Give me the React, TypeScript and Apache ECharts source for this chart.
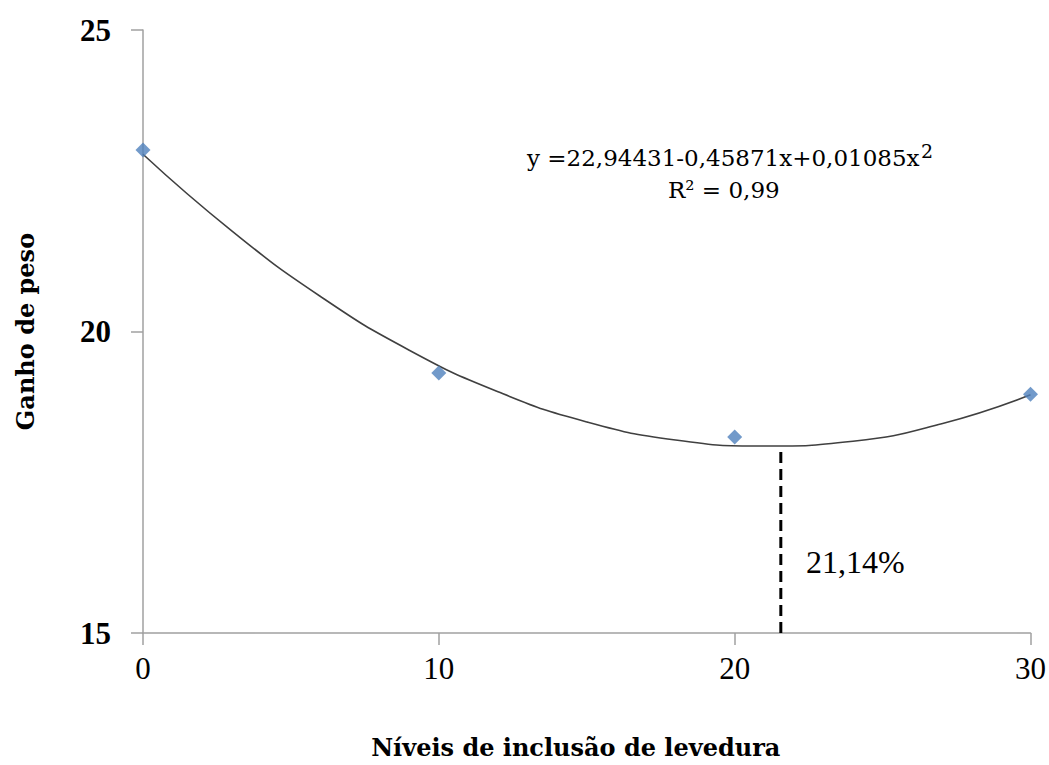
import React, { useEffect, useRef } from "react";
import * as echarts from "echarts";

const xLevels = [0, 10, 20, 30];
const observed = [23.01, 19.31, 18.25, 18.96];
const curveX = [0, 3, 6, 9, 12, 15, 18, 21, 24, 27, 30];
const curveY = [22.94, 21.67, 20.58, 19.69, 19.0, 18.5, 18.2, 18.1, 18.18, 18.47, 18.95];
const optimumX = 21.56;
const optimumY = 18.1;
const xTicks = [0, 10, 20, 30];
const yTicks = [15, 20, 25];
const equationText = "y =22,94431-0,45871x+0,01085x";
const equationSup = "2";
const r2Text = "R² = 0,99";
const optimumLabel = "21,14%";

export default function App() {
  const ref = useRef<HTMLDivElement>(null);
  useEffect(() => {
    if (!ref.current) return;
    const chart = echarts.init(ref.current, null, { renderer: "svg" });
    const serif = "Liberation Serif";
    const wide = "DejaVu Serif";
    chart.setOption({
      animation: false,
      backgroundColor: "#ffffff",
      grid: { left: 143, right: 17, top: 30, bottom: 132 },
      xAxis: {
        type: "value",
        min: xTicks[0],
        max: xTicks[xTicks.length - 1],
        interval: 10,
        name: "Níveis de inclusão de levedura",
        nameLocation: "middle",
        nameGap: 102,
        nameTextStyle: {
          fontFamily: wide,
          fontSize: 24,
          fontWeight: "bold",
          color: "#000",
          padding: [0, 22, 0, 0],
        },
        axisLine: { lineStyle: { color: "#a0a0a0", width: 1.5 } },
        axisTick: { show: true, length: 12, lineStyle: { color: "#a0a0a0", width: 1.5 } },
        axisLabel: { fontFamily: serif, fontSize: 31, color: "#000", margin: 20 },
        splitLine: { show: false },
      },
      yAxis: {
        type: "value",
        min: yTicks[0],
        max: yTicks[yTicks.length - 1],
        interval: 5,
        name: "Ganho de peso",
        nameLocation: "middle",
        nameGap: 106,
        nameTextStyle: { fontFamily: wide, fontSize: 24, fontWeight: "bold", color: "#000" },
        axisLine: { show: true, lineStyle: { color: "#a0a0a0", width: 1.5 } },
        axisTick: { show: true, length: 12, lineStyle: { color: "#a0a0a0", width: 1.5 } },
        axisLabel: { fontFamily: serif, fontSize: 31, fontWeight: "bold", color: "#000", margin: 32 },
        splitLine: { show: false },
      },
      series: [
        {
          type: "line",
          data: curveX.map((x, i) => [x, curveY[i]]),
          smooth: true,
          showSymbol: false,
          lineStyle: { color: "#404040", width: 1.6 },
          z: 2,
        },
        {
          type: "scatter",
          data: xLevels.map((x, i) => [x, observed[i]]),
          symbol: "diamond",
          symbolSize: 15,
          itemStyle: { color: "#4f81bd" },
          z: 3,
        },
        {
          type: "line",
          data: [
            [optimumX, yTicks[0]],
            [optimumX, optimumY],
          ],
          showSymbol: false,
          lineStyle: { color: "#000", width: 3, type: [11, 6] },
          z: 4,
        },
      ],
      graphic: [
        {
          type: "text",
          left: 527,
          top: 146,
          style: { text: equationText, font: "23px 'DejaVu Serif'", fill: "#000" },
        },
        {
          type: "text",
          left: 921,
          top: 141,
          style: { text: equationSup, font: "19px 'DejaVu Serif'", fill: "#000" },
        },
        {
          type: "text",
          left: 668,
          top: 178,
          style: { text: r2Text, font: "23px 'DejaVu Serif'", fill: "#000" },
        },
        {
          type: "text",
          left: 806,
          top: 546,
          style: { text: optimumLabel, font: "32px 'Liberation Serif'", fill: "#000" },
        },
      ],
    });
    return () => chart.dispose();
  }, []);
  return (
    <div
      ref={ref}
      style={{ position: "fixed", left: 0, top: 0, width: 1049, height: 765 }}
    />
  );
}
